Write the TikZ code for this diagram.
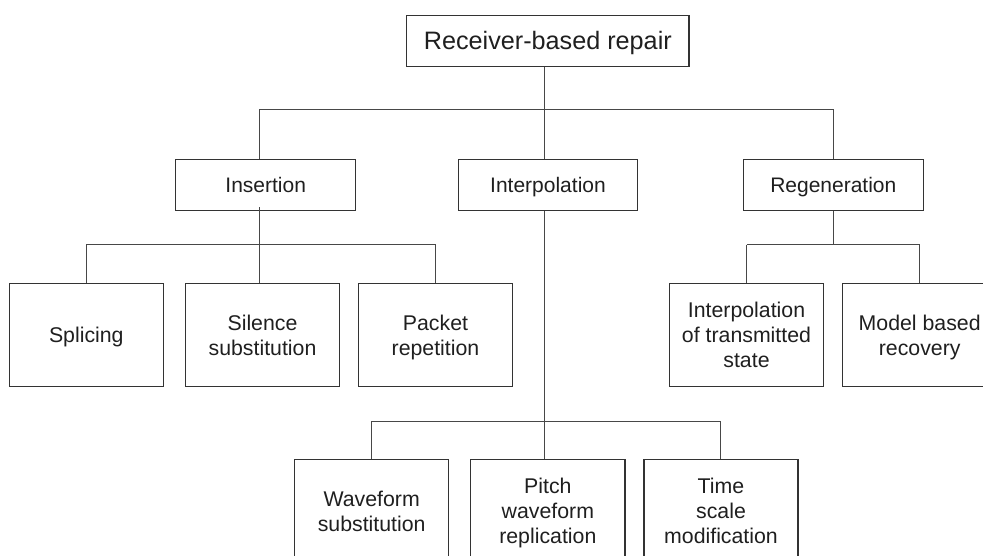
\documentclass[tikz,border=0pt]{standalone}
\usepackage{fontspec}
\setmainfont{Liberation Sans}
\begin{document}
\begin{tikzpicture}[x=1pt,y=-1pt,
  box/.style={draw=black!80, line width=1.1pt, rectangle, inner sep=0pt, align=center, text=black!88, text depth=0pt},
  topbox/.style={box, minimum width=282.3pt, minimum height=51pt, font=\fontsize{25.2}{30}\selectfont},
  midbox/.style={box, minimum width=180pt, minimum height=51pt, font=\fontsize{21}{25}\selectfont},
  leafbox/.style={box, minimum width=154pt, minimum height=102.4pt, font=\fontsize{21.3}{25}\selectfont},
  conn/.style={draw=black!72, line width=1pt}]
\useasboundingbox (0,0) rectangle (983,556);

\node[topbox] (root) at (547.85,40.7) {Receiver-based repair};

\node[midbox] (ins) at (265.7,184.8) {Insertion};
\node[midbox, minimum width=179.4pt] (intp) at (548,184.8) {Interpolation};
\node[midbox] (regen) at (833.3,184.8) {Regeneration};

\node[leafbox] (spl) at (86.3,335) {Splicing};
\node[leafbox, minimum width=154.4pt] (sil) at (262.5,335) {Silence\\substitution};
\node[leafbox, minimum width=154.4pt] (pkt) at (435.5,335) {Packet\\repetition};
\node[leafbox, minimum width=153.6pt] (ist) at (746.5,335) {Interpolation\\of transmitted\\state};
\node[leafbox] (mbr) at (919.7,335) {Model based\\recovery};

\node[leafbox] (wav) at (371.7,511) {Waveform\\substitution};
\node[leafbox, minimum width=154.3pt] (pit) at (547.85,511) {Pitch\\waveform\\replication};
\node[leafbox] (tsm) at (721,511) {Time\\scale\\modification};

% bus coordinates
\coordinate (t0) at (544.7,109.5);
\coordinate (t1) at (259.3,109.5);
\coordinate (t2) at (833.3,109.5);

\coordinate (i0) at (259.3,245);
\coordinate (i1) at (86.3,245);
\coordinate (i2) at (435.7,245);

\coordinate (g0) at (833.3,245);
\coordinate (g1) at (746.7,245);
\coordinate (g2) at (919.7,245);

\coordinate (p0) at (544.5,421);
\coordinate (p1) at (371.3,421);
\coordinate (p2) at (720.7,421);

% top level
\draw[conn] (root.south -| t0) -- (t0);
\draw[conn] (t1) -- (t2);
\draw[conn] (t1) -- (t1 |- ins.north);
\draw[conn] (t0) -- (t0 |- intp.north);
\draw[conn] (t2) -- (t2 |- regen.north);

% insertion
\draw[conn] ([yshift=3.6pt]ins.south -| i0) -- (i0);
\draw[conn] (i1) -- (i2);
\draw[conn] (i1) -- (i1 |- spl.north);
\draw[conn] (i0) -- (i0 |- sil.north);
\draw[conn] (i2) -- (i2 |- pkt.north);

% regeneration
\draw[conn] (regen.south -| g0) -- (g0);
\draw[conn] (g1) -- (g2);
\draw[conn] (g1) -- (g1 |- ist.north);
\draw[conn] (g2) -- (g2 |- mbr.north);

% interpolation
\draw[conn] (intp.south -| p0) -- (p0 |- pit.north);
\draw[conn] (p1) -- (p2);
\draw[conn] (p1) -- (p1 |- wav.north);
\draw[conn] (p2) -- (p2 |- tsm.north);
\end{tikzpicture}
\end{document}
